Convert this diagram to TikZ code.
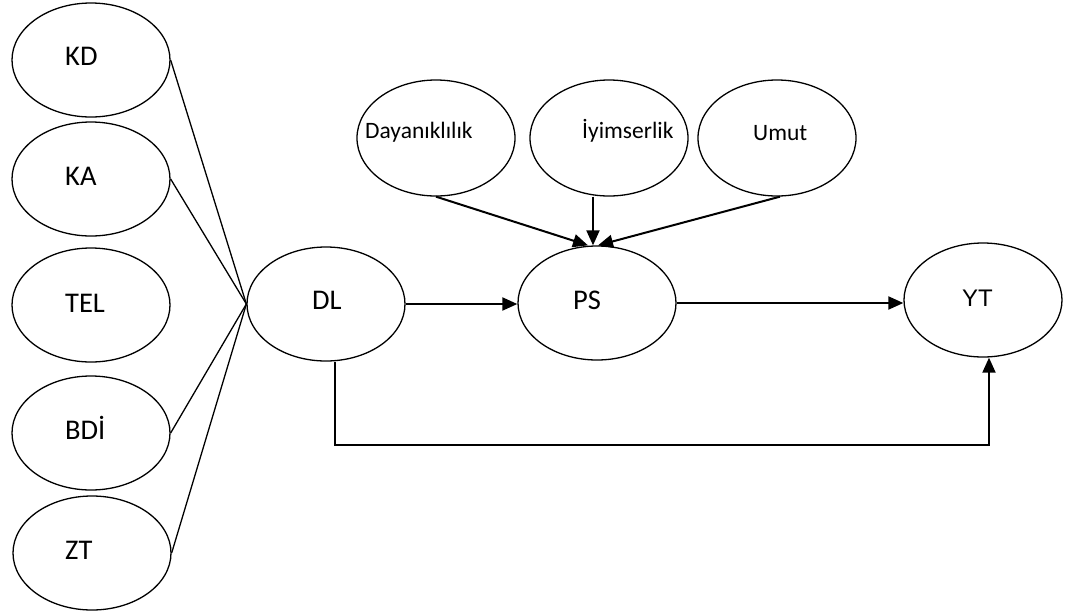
\documentclass[tikz,border=0pt]{standalone}
\usepackage{fontspec}
\setmainfont{Carlito}
\newfontfamily\arialfont{Liberation Sans}
\usetikzlibrary{arrows.meta,calc,shapes.geometric}

\tikzset{
  var/.style={draw, ellipse, line width=1.3pt, minimum width=158pt, minimum height=114pt, inner sep=0pt},
  lbl/.style={anchor=base west, inner sep=0pt},
  big/.style={font=\fontsize{28.5}{30}\selectfont},
  small/.style={font=\fontsize{23.5}{25}\selectfont},
  link/.style={line width=1.3pt},
  arr/.style={line width=2pt, -{Triangle[length=15pt,width=13pt]}}
}

\begin{document}
\begin{tikzpicture}[x=1pt, y=-1pt]
\useasboundingbox (0,0) rectangle (1074,611);

% dimension ellipses on the left
\node[var] (KD)  at (91,60)  {};
\node[var] (KA)  at (91,179) {};
\node[var] (TEL) at (91,305) {};
\node[var] (BDI) at (91,433) {};
\node[var] (ZT)  at (92,553) {};

% main constructs
\node[var] (DL) at (326,304) {};
\node[var] (PS) at (597,303) {};
\node[var] (YT) at (983,300) {};

% components of PS
\node[var, minimum height=116pt] (DAY) at (436,138) {};
\node[var, minimum height=116pt] (IYI) at (609,138) {};
\node[var, minimum height=116pt] (UMU) at (777,138) {};

% labels
\node[lbl, big] (KDt)  at (65,65)  {KD};
\node[lbl, big] (KAt)  at (65,185) {KA};
\node[lbl, big] (TELt) at (65,312) {TEL};
\node[lbl, big] (BDIt) at (65,439) {BDİ};
\node[lbl, big] (ZTt)  at (65,559) {ZT};
\node[lbl, big] (DLt)  at (312,309) {DL};
\node[lbl, big] (PSt)  at (573,309) {PS};
\node[lbl, font=\arialfont\fontsize{24}{26}\selectfont] (YTt) at (962,306) {YT};
\node[lbl, small] (DAYt) at (365,138) {Dayanıklılık};
\node[lbl, small] (IYIt) at (582,138) {İyimserlik};
\node[lbl, small] (UMUt) at (753,140) {Umut};

% indicators converging on DL
\draw[link] (KD.east)  -- (DL.west);
\draw[link] (KA.east)  -- (DL.west);
\draw[link] (BDI.east) -- (DL.west);
\draw[link] (ZT.east)  -- (DL.west);

% paths between constructs
\draw[arr] (DL.east) -- (DL.east -| PS.west);
\draw[arr] (PS.east) -- (PS.east -| YT.west);

% components into PS
\draw[arr] (DAY.south) -- ($(PS.north)+(-9,0)$);
\draw[arr] ($(IYI.south)+(-16,0)$) -- ($(PS.north)+(-4,0)$);
\draw[arr] ($(UMU.south)+(3,0)$) -- ($(PS.north)+(1,0)$);

% direct path DL -> YT
\coordinate (dlout) at ($(DL.south)+(9,0)$);
\coordinate (ytin) at ($(YT.south)+(6,0)$);
\coordinate (base) at (0,445);
\draw[arr] (dlout) |- (base -| ytin) -- (ytin);
\end{tikzpicture}
\end{document}
